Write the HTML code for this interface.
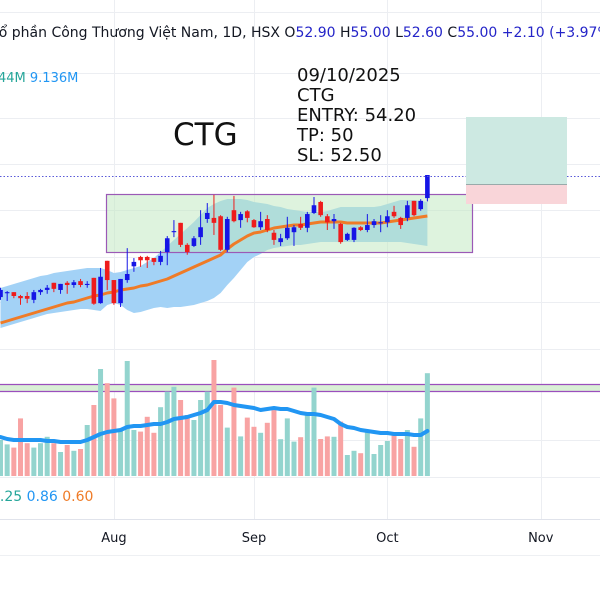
<!DOCTYPE html>
<html><head><meta charset="utf-8"><style>
html,body{margin:0;padding:0;background:#fff;}
#wrap{position:relative;width:600px;height:600px;overflow:hidden;font-family:"DejaVu Sans","Liberation Sans",sans-serif;}
svg{position:absolute;left:0;top:0;}
</style></head><body>
<div id="wrap">
<svg id="chart" width="600" height="600" viewBox="0 0 600 600">
  <g id="grid"></g>
  <g id="band"></g>
  <rect x="106.5" y="194.5" width="366" height="58" fill="rgba(190,232,190,0.5)" stroke="#9b59b6" stroke-width="1.2"></rect>
  <g id="ma"></g>
  <g id="candles"></g>
  <line x1="0" y1="176.5" x2="600" y2="176.5" stroke="#5a5ad8" stroke-width="1" stroke-dasharray="1.5,2"></line>
  <rect x="466" y="117" width="101" height="67" fill="#cde9e2"></rect>
  <rect x="466" y="184" width="101" height="20" fill="#f9d5d9"></rect>
  <line x1="466" y1="184.5" x2="567" y2="184.5" stroke="#9aa" stroke-width="1"></line>
  <rect x="0" y="384" width="600" height="8" fill="#d9efd6"></rect>
  <line x1="0" y1="384.5" x2="600" y2="384.5" stroke="#9b4fbd" stroke-width="1.2"></line>
  <line x1="0" y1="391.5" x2="600" y2="391.5" stroke="#9b4fbd" stroke-width="1.2"></line>
  <g id="vol"></g>
  <g id="volma"></g>
  <line x1="0" y1="519.5" x2="600" y2="519.5" stroke="#e0e3eb"></line>
  <line x1="0" y1="555.5" x2="600" y2="555.5" stroke="#eef0f3"></line>
  <g id="xlabels"></g>

  <text x="-11" y="37" font-size="14" fill="#131722">Cổ phần Công Thương Việt Nam, 1D, HSX  O<tspan fill="#2424c8">52.90</tspan>  H<tspan fill="#2424c8">55.00</tspan>  L<tspan fill="#2424c8">52.60</tspan>  C<tspan fill="#2424c8">55.00</tspan>  <tspan fill="#2424c8">+2.10 (+3.97%)</tspan></text>
  <text x="-2" y="82" font-size="13" fill="#26a69a">44M <tspan fill="#2196f3">9.136M</tspan></text>
  <text x="173" y="145" font-size="31" fill="#111">CTG</text>
  <g font-size="18" fill="#111">
    <text x="297" y="81">09/10/2025</text>
    <text x="297" y="101">CTG</text>
    <text x="297" y="121">ENTRY: 54.20</text>
    <text x="297" y="141">TP: 50</text>
    <text x="297" y="161">SL: 52.50</text>
  </g>
  <text x="-9" y="501" font-size="14" fill="#26a69a">0.25 <tspan fill="#2196f3">0.86</tspan> <tspan fill="#ef7b27">0.60</tspan></text>
</svg>
</div>
<script>
const opens=[43.9,44.25,44.35,44.0,44.0,43.65,44.35,44.55,45.2,44.55,45.2,45.0,45.35,45.0,45.65,43.35,47.2,45.45,43.35,45.45,46.7,47.55,47.55,47.45,47.1,48.0,49.8,50.65,48.65,48.55,49.35,51.0,51.1,51.25,48.2,51.8,50.9,51.7,50.9,50.25,51.0,49.75,48.9,49.25,49.8,50.55,50.2,51.55,52.55,51.25,50.8,50.55,49.1,49.1,50.25,50.0,50.45,50.65,50.7,51.65,51.1,51.1,52.65,51.9,52.9];
const highs=[44.75,44.45,44.35,44.1,44.35,44.55,44.65,45.0,45.2,45.1,45.35,45.45,45.55,45.35,45.65,46.55,47.2,45.45,45.55,48.35,47.45,47.65,47.65,47.45,48.1,49.45,50.9,50.65,48.8,49.45,51.8,52.45,53.2,51.35,51.2,53.1,51.65,51.8,51.0,51.65,51.35,50.0,49.65,51.2,50.45,51.2,51.65,53.0,52.65,51.45,51.45,50.65,49.75,50.25,50.35,51.45,51.0,51.35,51.8,52.2,51.2,52.65,52.65,52.8,55.0];
const lows=[43.65,43.55,43.8,43.2,43.35,43.35,44.1,44.2,44.35,44.2,44.2,44.75,44.8,44.75,43.2,43.3,44.55,43.2,43.0,45.2,46.2,46.65,46.55,46.8,46.8,46.8,49.35,48.45,47.75,48.45,48.65,50.65,49.55,48.1,48.0,50.7,50.2,50.7,50.2,50.0,49.8,48.65,48.55,49.1,48.55,50.0,49.8,51.45,51.2,50.0,50.1,48.75,49.0,48.9,49.9,49.8,50.2,49.8,50.25,51.1,50.1,50.8,51.25,51.75,52.6];
const closes=[44.55,44.35,44.0,43.8,43.75,44.35,44.55,44.75,44.65,45.1,45.0,45.25,45.0,45.1,43.3,45.75,45.45,43.35,45.55,46.0,47.1,47.25,47.25,47.1,47.65,49.25,49.9,48.65,48.0,49.25,50.25,51.55,50.65,48.2,51.0,50.8,51.45,51.1,50.25,50.8,50.0,49.1,49.25,50.2,50.25,50.2,51.45,52.25,51.35,50.7,51.0,48.9,49.65,50.2,50.0,50.45,50.8,50.7,51.25,51.25,50.45,52.25,51.35,52.65,55.0];
const priceMA=[41.55,41.73,41.91,42.09,42.27,42.45,42.64,42.82,43.0,43.18,43.36,43.45,43.64,43.82,44.0,44.09,44.27,44.36,44.55,44.64,44.73,44.91,45.0,45.18,45.36,45.55,45.82,46.09,46.36,46.64,46.91,47.18,47.45,47.73,48.27,48.73,49.09,49.45,49.73,49.82,50.0,50.18,50.27,50.36,50.45,50.45,50.55,50.64,50.73,50.73,50.73,50.73,50.64,50.64,50.64,50.64,50.64,50.64,50.73,50.82,50.91,51.0,51.09,51.18,51.27];
const bandUpper=[44.73,44.91,45.09,45.27,45.45,45.64,45.82,45.91,46.09,46.18,46.27,46.36,46.45,46.55,46.55,46.55,46.36,46.09,46.18,46.36,46.55,46.73,47.09,47.45,48.0,48.55,49.09,49.64,50.18,50.73,51.36,52.0,52.36,52.64,52.82,52.82,52.82,52.73,52.55,52.45,52.36,52.18,52.09,51.91,51.82,51.73,51.64,51.64,51.64,51.73,51.91,52.09,52.09,52.09,52.09,52.09,52.09,52.18,52.36,52.55,52.73,52.73,52.73,52.64,52.55];
const bandLower=[41.09,41.27,41.45,41.64,41.82,42.0,42.18,42.36,42.45,42.55,42.64,42.73,42.82,42.82,42.73,42.64,43.18,43.36,43.18,42.73,42.45,42.55,42.73,42.91,43.0,42.91,43.0,43.0,43.09,43.18,43.36,43.55,43.82,44.27,45.0,45.64,46.36,47.09,47.55,47.82,48.18,48.36,48.45,48.55,48.64,48.64,48.73,48.82,48.91,48.91,48.91,48.91,48.91,48.91,48.91,48.91,48.91,48.91,48.91,48.91,48.91,48.82,48.73,48.64,48.55];
const volumes=[9.0,7.9,7.1,14.4,8.2,7.1,8.2,9.8,8.2,6.0,7.75,6.3,6.75,12.75,17.75,26.75,23.2,19.4,11.5,28.75,11.5,11.1,14.8,10.8,17.2,21.1,22.3,19.0,15.25,14.0,19.0,21.1,29.0,17.75,12.1,22.1,9.9,14.6,12.3,10.8,13.3,16.5,9.2,14.4,8.6,9.7,15.25,22.1,9.25,9.9,9.8,13.6,5.25,6.3,5.7,11.1,5.5,7.75,8.75,10.25,9.25,11.5,7.3,14.4,25.7];
const volumeMA=[9.75,9.25,9,9,9,9,9,8.75,8.75,8.5,8.5,8.5,8.5,9,9.75,10.5,11,11.25,11.5,12.25,12.5,12.5,12.75,13,13,13.5,14.25,14.5,14.75,15.25,15.75,16.5,18.5,18.5,18.25,17.75,17.5,17.25,17,16.5,16.75,17,16.75,16.75,16.25,15.75,15.5,15.5,15.25,14.75,14.25,13,12.25,12,11.5,11.25,11,10.75,10.75,10.5,10.5,10.5,10.25,10.25,11.25];
const monthLabels=["Aug","Sep","Oct","Nov"];
const monthIndex=[17,38,58,81];

const NS="http://www.w3.org/2000/svg";
const step=6.67;
function xAt(i){return 0.5+i*step;}
function yPrice(p){return 175-(p-55)*11;}
function yVol(v){return 476-v*4;}
function mk(tag,attrs,parent){const e=document.createElementNS(NS,tag);for(const k in attrs)e.setAttribute(k,attrs[k]);parent.appendChild(e);return e;}

const grid=document.getElementById('grid');
[12,73,118,164,210,257,302,349,440,477].forEach(y=>{
  const l=mk('line',{x1:0,x2:600,y1:y+0.5,y2:y+0.5,stroke:'#eceef2','stroke-width':1},grid);
  
  
});
monthIndex.forEach(i=>{
  const l=mk('line',{x1:Math.round(xAt(i))+0.5,x2:Math.round(xAt(i))+0.5,y1:0,y2:519,stroke:'#eceef2','stroke-width':1},grid);
  
  
});

let d='';
bandUpper.forEach((v,i)=>{d+=(i?'L':'M')+xAt(i).toFixed(1)+','+yPrice(v).toFixed(1);});
for(let i=bandLower.length-1;i>=0;i--){d+='L'+xAt(i).toFixed(1)+','+yPrice(bandLower[i]).toFixed(1);}
d+='Z';
const bp=mk('path',{d:d,fill:'#a3d2f6'},document.getElementById('band'));



let md='';
priceMA.forEach((v,i)=>{md+=(i?'L':'M')+xAt(i).toFixed(1)+','+yPrice(v).toFixed(1);});
const mp=mk('path',{d:md,fill:'none',stroke:'#ef7b27','stroke-width':3,'stroke-linejoin':'round'},document.getElementById('ma'));



const cg=document.getElementById('candles');
opens.forEach((o,i)=>{
  const c=closes[i],up=c>=o,col=up?'#1515e6':'#ee1c1c',x=xAt(i);
  const g=mk('g',{},cg);
  
  
  mk('line',{x1:x,x2:x,y1:yPrice(highs[i]),y2:yPrice(lows[i]),stroke:col,'stroke-width':1},g);
  const t=yPrice(Math.max(o,c)),b=yPrice(Math.min(o,c));
  mk('rect',{x:x-2.3,y:t,width:4.6,height:Math.max(1,b-t),fill:col},g);
});

const vg=document.getElementById('vol');
volumes.forEach((v,i)=>{
  const up=closes[i]>=opens[i],x=xAt(i);
  const r=mk('rect',{x:x-2.5,y:yVol(v),width:5,height:476-yVol(v),fill:up?'#93d4ce':'#f8a3a3'},vg);
  
  
});
let vd='';
volumeMA.forEach((v,i)=>{vd+=(i?'L':'M')+xAt(i).toFixed(1)+','+yVol(v).toFixed(1);});
const vp=mk('path',{d:vd,fill:'none',stroke:'#2196f3','stroke-width':4,'stroke-linejoin':'round','stroke-linecap':'round'},document.getElementById('volma'));



const xl=document.getElementById('xlabels');
monthLabels.forEach((m,k)=>{
  const t=mk('text',{x:xAt(monthIndex[k]),y:542,'text-anchor':'middle','font-size':13,fill:'#131722'},xl);
  t.textContent=m;
  
  
});
</script>
</body></html>
